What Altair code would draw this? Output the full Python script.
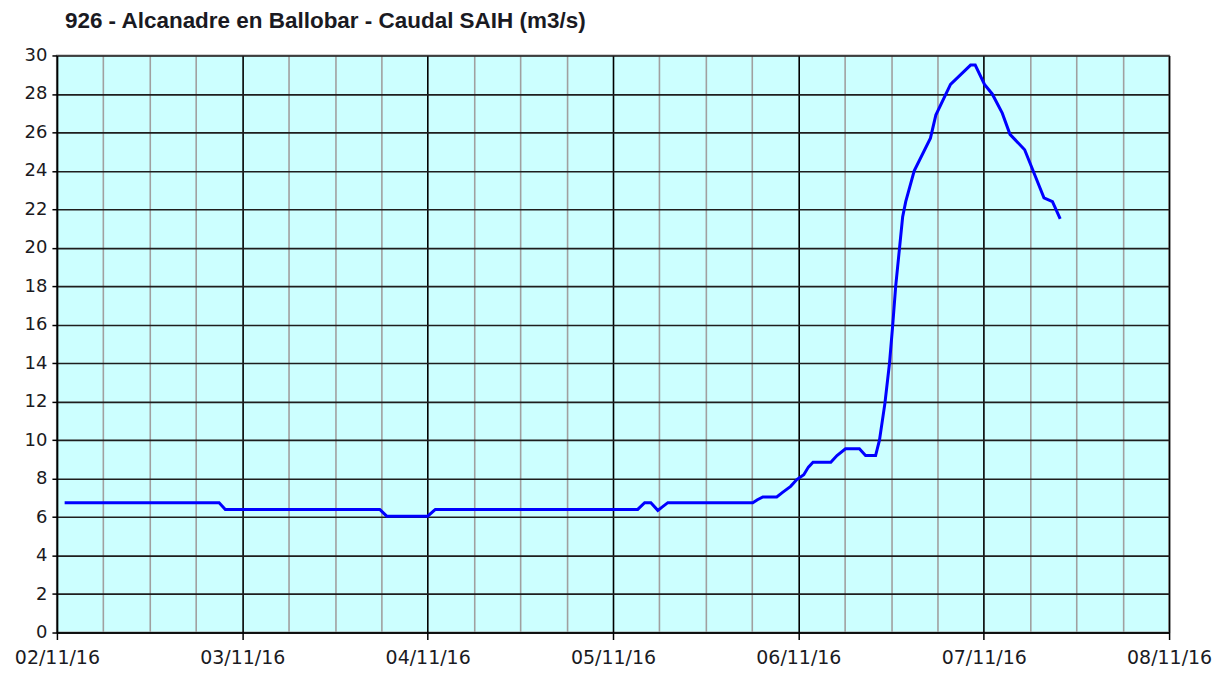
import altair as alt
import pandas as pd

# hours after 02/11/16 00:00
hours = [1.0, 21.0, 21.8, 41.8, 42.7, 48.0, 49.0, 75.2, 76.1, 76.9, 77.8, 79.1,
         90.1, 90.7, 91.4, 93.2, 94.0, 95.0, 95.8, 96.7, 97.3, 97.9, 100.2, 101.0,
         102.1, 103.9, 104.7, 106.0, 106.5, 107.2, 107.8, 108.2, 108.6, 109.1, 109.5,
         109.9, 111.0, 113.1, 113.8, 115.7, 118.3, 118.9, 120.1, 121.1, 122.4, 123.4,
         125.3, 126.6, 127.8, 128.9, 129.9]
caudal = [6.75, 6.75, 6.4, 6.4, 6.05, 6.05, 6.4, 6.4, 6.75, 6.75, 6.35, 6.75,
          6.75, 6.9, 7.05, 7.05, 7.3, 7.6, 7.95, 8.2, 8.6, 8.85, 8.85, 9.2,
          9.55, 9.55, 9.2, 9.2, 10.0, 11.9, 14.0, 15.9, 18.0, 20.0, 21.6,
          22.4, 24.0, 25.7, 26.9, 28.5, 29.5, 29.5, 28.5, 28.0, 27.0, 25.9,
          25.1, 23.8, 22.6, 22.4, 21.5]
y_ticks = list(range(0, 31, 2))
title_text = "926 - Alcanadre en Ballobar - Caudal SAIH (m3/s)"

start = pd.Timestamp("2016-11-02 00:00:00")
df = pd.DataFrame({
    "fecha": [(start + pd.Timedelta(hours=h)).strftime("%Y-%m-%dT%H:%M:%S") for h in hours],
    "caudal": caudal,
})

x_values = [alt.DateTime(year=2016, month=11, date=2 + (i * 6) // 24, hours=(i * 6) % 24)
            for i in range(25)]

is_day = "hours(datum.value) == 0"

chart = alt.Chart(df).mark_line(color="#0000ff", strokeWidth=3).encode(
    x=alt.X("fecha:T",
            scale=alt.Scale(domain=[alt.DateTime(year=2016, month=11, date=2),
                                    alt.DateTime(year=2016, month=11, date=8)]),
            axis=alt.Axis(
                values=x_values,
                title=None,
                labelExpr="hours(datum.value) == 0 ? timeFormat(datum.value, '%d/%m/%y') : ''",
                labelFont="DejaVu Sans", labelFontSize=19, labelColor="#1a1a22",
                labelPadding=9, labelOverlap=False, labelFlush=False,
                tickSize=7, tickWidth=1.5,
                tickColor={"condition": {"test": is_day, "value": "#000000"}, "value": "transparent"},
                domainColor="#000000", domainWidth=1.5,
                grid=True, gridWidth=1.6,
                gridColor={"condition": {"test": is_day, "value": "#000000"}, "value": "#a0a0a0"},
            )),
    y=alt.Y("caudal:Q",
            scale=alt.Scale(domain=[0, 30], nice=False),
            axis=alt.Axis(
                values=y_ticks, title=None,
                labelFont="DejaVu Sans", labelFontSize=18, labelColor="#1a1a22",
                labelPadding=5, tickSize=5, tickWidth=1.5, tickColor="#000000",
                domainColor="#000000", domainWidth=1.5,
                grid=True, gridColor="#1e1e1e", gridWidth=1.6,
            )),
).properties(
    width=1114, height=578,
    autosize=alt.AutoSizeParams(type="none"),
    padding={"left": 49, "top": 47, "right": 55, "bottom": 40},
    title=alt.TitleParams(title_text, anchor="start", frame="group", dx=8,
                          font="Liberation Sans", fontSize=22.5, fontWeight="bold",
                          color="#1a1a22", offset=14),
).configure_view(
    fill="#ccffff", stroke="#a0a0a0", strokeWidth=2
)

chart.save("out.html", embed_options={"renderer": "svg", "actions": False})
